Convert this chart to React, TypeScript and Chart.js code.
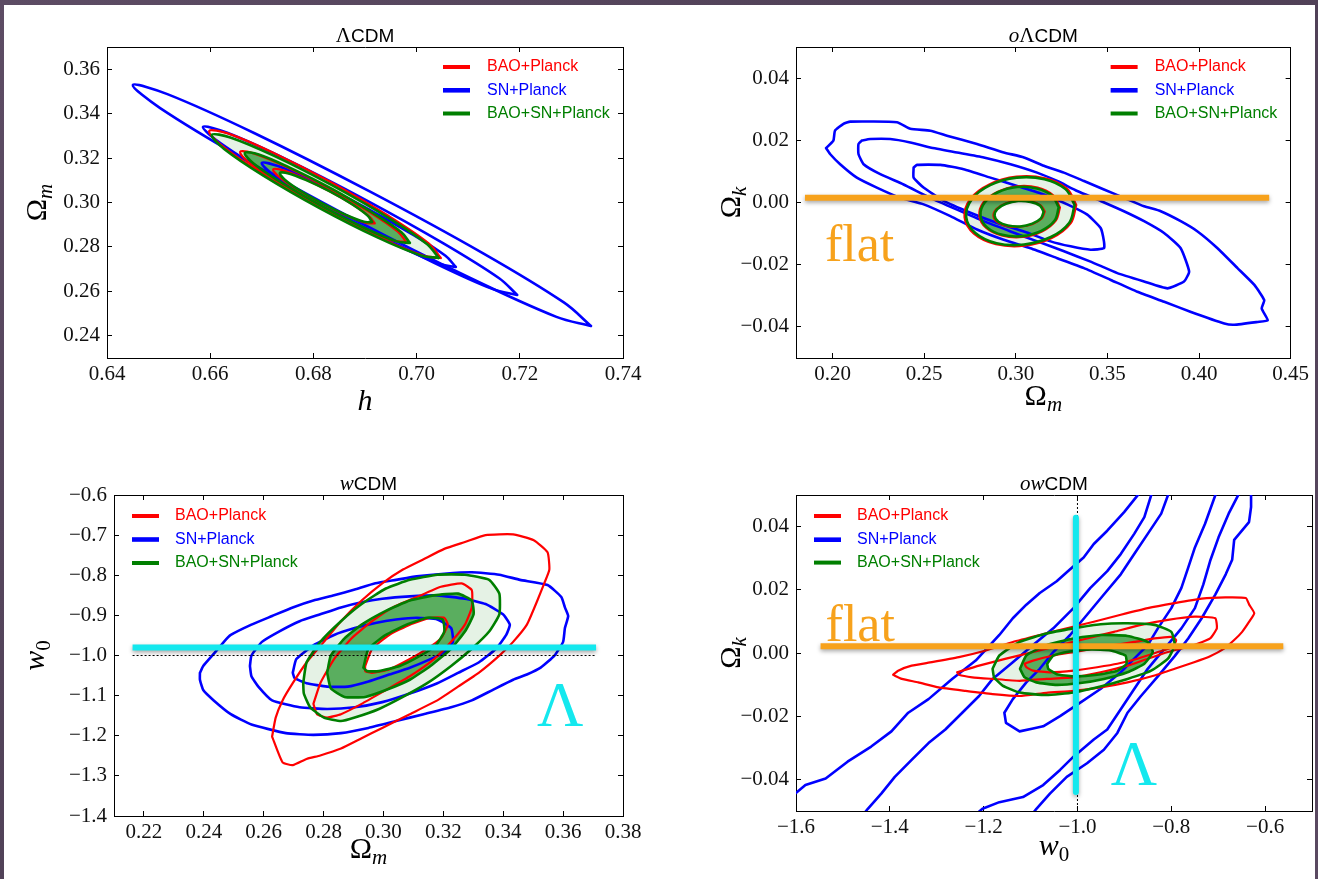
import React, { useEffect, useRef } from 'react';
import { Chart, registerables } from 'chart.js';

Chart.register(...registerables);

type Pt = [number, number];

// ---------------- axis ranges & ticks ----------------
const P1_X_RANGE: Pt = [0.64, 0.74];
const P1_Y_RANGE: Pt = [0.23, 0.37];
const P1_X_TICKS = [0.64, 0.66, 0.68, 0.70, 0.72, 0.74];
const P1_Y_TICKS = [0.24, 0.26, 0.28, 0.30, 0.32, 0.34, 0.36];

const P2_X_RANGE: Pt = [0.18, 0.45];
const P2_Y_RANGE: Pt = [-0.05, 0.05];
const P2_X_TICKS = [0.20, 0.25, 0.30, 0.35, 0.40, 0.45];
const P2_Y_TICKS = [-0.04, -0.02, 0, 0.02, 0.04];

const P3_X_RANGE: Pt = [0.21, 0.38];
const P3_Y_RANGE: Pt = [-1.4, -0.6];
const P3_X_TICKS = [0.22, 0.24, 0.26, 0.28, 0.30, 0.32, 0.34, 0.36, 0.38];
const P3_Y_TICKS = [-1.4, -1.3, -1.2, -1.1, -1.0, -0.9, -0.8, -0.7, -0.6];

const P4_X_RANGE: Pt = [-1.6, -0.5];
const P4_Y_RANGE: Pt = [-0.05, 0.05];
const P4_X_TICKS = [-1.6, -1.4, -1.2, -1.0, -0.8, -0.6];
const P4_Y_TICKS = [-0.04, -0.02, 0, 0.02, 0.04];

const LEGEND_LABELS = ['BAO+Planck', 'SN+Planck', 'BAO+SN+Planck'];

// ---------------- Panel 1: ΛCDM (h, Ωm) ----------------
const P1_SN_3: Pt[] = [[0.7338,0.2444],[0.7271,0.2485],[0.7104,0.2660],[0.6880,0.2923],[0.6660,0.3203],[0.6503,0.3425],[0.6450,0.3529],[0.6517,0.3488],[0.6685,0.3313],[0.6909,0.3050],[0.7129,0.2771],[0.7286,0.2549]];
const P1_SN_2: Pt[] = [[0.7195,0.2584],[0.7148,0.2610],[0.7033,0.2730],[0.6879,0.2912],[0.6728,0.3108],[0.6621,0.3265],[0.6586,0.3340],[0.6633,0.3314],[0.6748,0.3194],[0.6902,0.3011],[0.7052,0.2816],[0.7160,0.2659]];
const P1_SN_1: Pt[] = [[0.7076,0.2710],[0.7047,0.2722],[0.6975,0.2794],[0.6880,0.2906],[0.6787,0.3028],[0.6721,0.3128],[0.6700,0.3178],[0.6730,0.3165],[0.6802,0.3094],[0.6897,0.2982],[0.6990,0.2859],[0.7056,0.2760]];
const P1_BAO_3: Pt[] = [[0.7047,0.2750],[0.7011,0.2762],[0.6924,0.2847],[0.6810,0.2983],[0.6699,0.3133],[0.6622,0.3257],[0.6598,0.3322],[0.6634,0.3311],[0.6721,0.3225],[0.6835,0.3090],[0.6946,0.2939],[0.7024,0.2815]];
const P1_BAO_2: Pt[] = [[0.6980,0.2822],[0.6953,0.2829],[0.6891,0.2888],[0.6809,0.2984],[0.6730,0.3091],[0.6675,0.3180],[0.6658,0.3228],[0.6684,0.3221],[0.6746,0.3162],[0.6828,0.3066],[0.6907,0.2959],[0.6963,0.2870]];
const P1_BAO_1: Pt[] = [[0.6919,0.2906],[0.6903,0.2907],[0.6864,0.2941],[0.6814,0.2998],[0.6765,0.3063],[0.6732,0.3118],[0.6722,0.3149],[0.6738,0.3147],[0.6777,0.3113],[0.6827,0.3056],[0.6876,0.2991],[0.6909,0.2936]];
const P1_ALL_3: Pt[] = [[0.7043,0.2750],[0.7008,0.2762],[0.6923,0.2844],[0.6811,0.2976],[0.6703,0.3121],[0.6627,0.3241],[0.6603,0.3304],[0.6639,0.3293],[0.6724,0.3210],[0.6835,0.3079],[0.6944,0.2933],[0.7020,0.2813]];
const P1_ALL_2: Pt[] = [[0.6987,0.2818],[0.6961,0.2825],[0.6899,0.2885],[0.6818,0.2981],[0.6739,0.3088],[0.6684,0.3176],[0.6667,0.3223],[0.6694,0.3216],[0.6755,0.3156],[0.6837,0.3060],[0.6915,0.2953],[0.6971,0.2865]];
const P1_ALL_1: Pt[] = [[0.6914,0.2912],[0.6898,0.2913],[0.6864,0.2943],[0.6818,0.2995],[0.6774,0.3054],[0.6744,0.3104],[0.6735,0.3133],[0.6750,0.3132],[0.6785,0.3102],[0.6831,0.3051],[0.6875,0.2992],[0.6905,0.2941]];

// ---------------- Panel 2: oΛCDM (Ωm, Ωk) ----------------
const P2_SN_3: Pt[] = [[0.1964,0.0175],[0.2004,0.0199],[0.2013,0.0231],[0.2059,0.0253],[0.2096,0.0260],[0.2351,0.0258],[0.2424,0.0237],[0.2533,0.0231],[0.2624,0.0215],[0.2788,0.0188],[0.2934,0.0161],[0.3044,0.0145],[0.3153,0.0118],[0.3262,0.0096],[0.3372,0.0069],[0.3481,0.0042],[0.3590,0.0015],[0.3700,-0.0012],[0.3791,-0.0028],[0.3900,-0.0060],[0.3992,-0.0093],[0.4101,-0.0147],[0.4210,-0.0211],[0.4302,-0.0265],[0.4356,-0.0314],[0.4342,-0.0341],[0.4375,-0.0379],[0.4320,-0.0384],[0.4192,-0.0393],[0.4138,-0.0389],[0.3956,-0.0352],[0.3810,-0.0319],[0.3663,-0.0287],[0.3518,-0.0249],[0.3372,-0.0211],[0.3226,-0.0179],[0.3080,-0.0147],[0.2934,-0.0120],[0.2788,-0.0087],[0.2643,-0.0044],[0.2497,-0.0006],[0.2369,0.0015],[0.2241,0.0048],[0.2132,0.0080],[0.2041,0.0123],[0.1986,0.0156]];
const P2_SN_2: Pt[] = [[0.2159,0.0199],[0.2205,0.0204],[0.2314,0.0204],[0.2424,0.0193],[0.2533,0.0177],[0.2679,0.0161],[0.2825,0.0145],[0.2971,0.0123],[0.3116,0.0096],[0.3226,0.0069],[0.3335,0.0037],[0.3463,0.0005],[0.3590,-0.0028],[0.3700,-0.0060],[0.3809,-0.0098],[0.3900,-0.0147],[0.3946,-0.0222],[0.3918,-0.0254],[0.3827,-0.0276],[0.3700,-0.0254],[0.3554,-0.0227],[0.3408,-0.0190],[0.3263,-0.0157],[0.3117,-0.0125],[0.2971,-0.0093],[0.2825,-0.0060],[0.2679,-0.0023],[0.2533,0.0015],[0.2387,0.0058],[0.2260,0.0091],[0.2169,0.0123],[0.2141,0.0156],[0.2141,0.0188]];
const P2_SN_1: Pt[] = [[0.2442,0.0112],[0.2460,0.0121],[0.2588,0.0121],[0.2715,0.0107],[0.2861,0.0080],[0.3007,0.0053],[0.3153,0.0026],[0.3281,-0.0006],[0.3390,-0.0039],[0.3463,-0.0082],[0.3481,-0.0125],[0.3481,-0.0147],[0.3408,-0.0152],[0.3299,-0.0141],[0.3190,-0.0125],[0.3044,-0.0093],[0.2898,-0.0066],[0.2752,-0.0033],[0.2606,0.0005],[0.2496,0.0048],[0.2442,0.0080]];
const P2_BAO_3: Pt[] = [[0.3330,-0.0008],[0.3300,-0.0066],[0.3196,-0.0114],[0.3046,-0.0139],[0.2891,-0.0134],[0.2771,-0.0100],[0.2720,-0.0048],[0.2751,0.0011],[0.2855,0.0058],[0.3004,0.0083],[0.3160,0.0078],[0.3279,0.0045]];
const P2_BAO_2: Pt[] = [[0.3241,-0.0016],[0.3218,-0.0058],[0.3143,-0.0093],[0.3035,-0.0111],[0.2923,-0.0106],[0.2837,-0.0081],[0.2801,-0.0043],[0.2823,0.0000],[0.2899,0.0034],[0.3007,0.0052],[0.3119,0.0048],[0.3204,0.0023]];
const P2_BAO_1: Pt[] = [[0.3158,-0.0029],[0.3142,-0.0051],[0.3093,-0.0069],[0.3024,-0.0078],[0.2953,-0.0076],[0.2900,-0.0063],[0.2878,-0.0043],[0.2894,-0.0021],[0.2943,-0.0003],[0.3012,0.0006],[0.3083,0.0004],[0.3136,-0.0009]];
const P2_ALL_3: Pt[] = [[0.3321,-0.0008],[0.3292,-0.0065],[0.3191,-0.0111],[0.3045,-0.0135],[0.2895,-0.0131],[0.2779,-0.0098],[0.2729,-0.0047],[0.2759,0.0010],[0.2860,0.0056],[0.3005,0.0080],[0.3156,0.0075],[0.3271,0.0043]];
const P2_ALL_2: Pt[] = [[0.3234,-0.0016],[0.3212,-0.0058],[0.3139,-0.0091],[0.3034,-0.0108],[0.2926,-0.0104],[0.2843,-0.0080],[0.2807,-0.0042],[0.2829,-0.0001],[0.2902,0.0033],[0.3007,0.0050],[0.3116,0.0045],[0.3199,0.0021]];
const P2_ALL_1: Pt[] = [[0.3152,-0.0030],[0.3137,-0.0051],[0.3090,-0.0068],[0.3023,-0.0077],[0.2956,-0.0074],[0.2905,-0.0062],[0.2884,-0.0042],[0.2899,-0.0021],[0.2946,-0.0004],[0.3013,0.0005],[0.3080,0.0002],[0.3132,-0.0010]];
const P2_FLAT_LINE: Pt[] = [[0.1849, 0.0015], [0.4383, 0.0015]];
const P2_FLAT_TEXT_AT: Pt = [0.1958, -0.0188];

// ---------------- Panel 3: wCDM (Ωm, w0) ----------------
const P3_SN_3: Pt[] = [[0.2387,-1.0432],[0.2398,-1.0261],[0.2433,-0.9960],[0.2467,-0.9660],[0.2490,-0.9488],[0.2559,-0.9231],[0.2628,-0.9016],[0.2697,-0.8802],[0.2766,-0.8630],[0.2835,-0.8501],[0.2904,-0.8355],[0.2973,-0.8201],[0.3042,-0.8115],[0.3111,-0.8029],[0.3203,-0.7961],[0.3295,-0.7926],[0.3387,-0.7986],[0.3456,-0.8115],[0.3548,-0.8244],[0.3594,-0.8544],[0.3606,-0.8802],[0.3617,-0.9016],[0.3606,-0.9317],[0.3600,-0.9660],[0.3571,-1.0003],[0.3525,-1.0303],[0.3479,-1.0475],[0.3433,-1.0604],[0.3364,-1.0861],[0.3295,-1.1119],[0.3226,-1.1290],[0.3134,-1.1462],[0.3042,-1.1634],[0.2950,-1.1805],[0.2858,-1.1934],[0.2766,-1.1977],[0.2674,-1.1934],[0.2559,-1.1720],[0.2490,-1.1462],[0.2433,-1.1119],[0.2398,-1.0861],[0.2387,-1.0604]];
const P3_SN_2: Pt[] = [[0.2554,-1.0261],[0.2559,-1.0003],[0.2594,-0.9660],[0.2651,-0.9403],[0.2720,-0.9145],[0.2789,-0.8973],[0.2858,-0.8802],[0.2927,-0.8673],[0.2996,-0.8587],[0.3088,-0.8527],[0.3180,-0.8501],[0.3272,-0.8587],[0.3341,-0.8716],[0.3399,-0.8973],[0.3422,-0.9231],[0.3410,-0.9488],[0.3376,-0.9831],[0.3318,-1.0175],[0.3249,-1.0432],[0.3180,-1.0690],[0.3088,-1.0947],[0.2996,-1.1162],[0.2904,-1.1290],[0.2812,-1.1333],[0.2720,-1.1290],[0.2628,-1.1119],[0.2582,-1.0776],[0.2559,-1.0518]];
const P3_SN_1: Pt[] = [[0.2697,-1.0432],[0.2709,-1.0089],[0.2766,-0.9746],[0.2835,-0.9488],[0.2904,-0.9317],[0.2973,-0.9188],[0.3042,-0.9102],[0.3111,-0.9059],[0.3180,-0.9102],[0.3226,-0.9317],[0.3232,-0.9660],[0.3203,-0.9917],[0.3157,-1.0089],[0.3088,-1.0303],[0.3019,-1.0475],[0.2950,-1.0647],[0.2881,-1.0776],[0.2812,-1.0776],[0.2743,-1.0690],[0.2703,-1.0561]];
const P3_BAO_3: Pt[] = [[0.2628,-1.2020],[0.2640,-1.1548],[0.2663,-1.1119],[0.2697,-1.0690],[0.2743,-1.0175],[0.2801,-0.9660],[0.2858,-0.9145],[0.2927,-0.8630],[0.2996,-0.8201],[0.3065,-0.7858],[0.3134,-0.7600],[0.3203,-0.7343],[0.3272,-0.7171],[0.3341,-0.6999],[0.3433,-0.6982],[0.3502,-0.7128],[0.3548,-0.7428],[0.3554,-0.7858],[0.3537,-0.8201],[0.3514,-0.8630],[0.3479,-0.9231],[0.3433,-0.9660],[0.3387,-1.0003],[0.3318,-1.0432],[0.3249,-1.0776],[0.3180,-1.1119],[0.3088,-1.1462],[0.2996,-1.1805],[0.2927,-1.2063],[0.2858,-1.2320],[0.2789,-1.2492],[0.2743,-1.2578],[0.2697,-1.2732],[0.2663,-1.2663]];
const P3_BAO_2: Pt[] = [[0.2766,-1.1205],[0.2789,-1.0690],[0.2835,-1.0089],[0.2893,-0.9574],[0.2962,-0.9145],[0.3031,-0.8802],[0.3111,-0.8544],[0.3192,-0.8287],[0.3261,-0.8201],[0.3295,-0.8372],[0.3295,-0.8802],[0.3272,-0.9231],[0.3226,-0.9660],[0.3169,-1.0089],[0.3088,-1.0518],[0.3008,-1.0861],[0.2927,-1.1205],[0.2858,-1.1462],[0.2812,-1.1548],[0.2778,-1.1462]];
const P3_BAO_1: Pt[] = [[0.2939,-1.0261],[0.2962,-0.9831],[0.3019,-0.9488],[0.3088,-0.9231],[0.3157,-0.9059],[0.3203,-0.9059],[0.3215,-0.9231],[0.3192,-0.9574],[0.3146,-0.9831],[0.3088,-1.0089],[0.3019,-1.0346],[0.2962,-1.0432],[0.2939,-1.0389]];
const P3_ALL_3: Pt[] = [[0.2732,-1.0690],[0.2743,-1.0175],[0.2789,-0.9660],[0.2858,-0.9145],[0.2927,-0.8716],[0.3008,-0.8330],[0.3088,-0.8115],[0.3180,-0.7986],[0.3272,-0.7986],[0.3353,-0.8115],[0.3387,-0.8458],[0.3387,-0.8973],[0.3353,-0.9403],[0.3295,-0.9831],[0.3226,-1.0261],[0.3146,-1.0690],[0.3065,-1.1033],[0.2985,-1.1333],[0.2904,-1.1548],[0.2858,-1.1634],[0.2801,-1.1548],[0.2755,-1.1290],[0.2734,-1.0947]];
const P3_ALL_2: Pt[] = [[0.2812,-1.0432],[0.2824,-1.0003],[0.2870,-0.9574],[0.2927,-0.9231],[0.3008,-0.8887],[0.3088,-0.8630],[0.3169,-0.8501],[0.3249,-0.8458],[0.3295,-0.8630],[0.3301,-0.8973],[0.3272,-0.9403],[0.3226,-0.9831],[0.3157,-1.0261],[0.3088,-1.0604],[0.3008,-1.0861],[0.2939,-1.1033],[0.2870,-1.1033],[0.2824,-1.0818]];
const P3_ALL_1: Pt[] = [[0.2933,-1.0303],[0.2950,-0.9831],[0.3008,-0.9488],[0.3077,-0.9231],[0.3146,-0.9059],[0.3198,-0.9102],[0.3203,-0.9403],[0.3175,-0.9746],[0.3123,-1.0003],[0.3054,-1.0261],[0.2985,-1.0389],[0.2945,-1.0389]];
const P3_LAMBDA_LINE: Pt[] = [[0.2162, -0.98], [0.3710, -0.98]];
const P3_W_MINUS_ONE: Pt[] = [[0.2162, -1.0], [0.3710, -1.0]];
const P3_LAMBDA_TEXT_AT: Pt = [0.3590, -1.1757];

// ---------------- Panel 4: owCDM (w0, Ωk) ----------------
const P4_SN_3L: Pt[] = [[-1.6411,-0.0482],[-1.6015,-0.0445],[-1.5799,-0.0418],[-1.5368,-0.0397],[-1.4901,-0.0344],[-1.4397,-0.0296],[-1.3966,-0.0248],[-1.3607,-0.0189],[-1.3175,-0.0146],[-1.2672,-0.0082],[-1.2169,-0.0024],[-1.1665,0.0057],[-1.1378,0.0110],[-1.1090,0.0153],[-1.0803,0.0190],[-1.0443,0.0227],[-1.0156,0.0265],[-0.9868,0.0302],[-0.9652,0.0345],[-0.9365,0.0387],[-0.9005,0.0446],[-0.8718,0.0499],[-0.8502,0.0537]];
const P4_SN_2L: Pt[] = [[-1.4613,-0.0520],[-1.4469,-0.0493],[-1.4182,-0.0445],[-1.3894,-0.0392],[-1.3535,-0.0338],[-1.3175,-0.0285],[-1.2816,-0.0242],[-1.2456,-0.0189],[-1.2097,-0.0136],[-1.1809,-0.0082],[-1.1378,-0.0029],[-1.0946,0.0025],[-1.0515,0.0078],[-1.0084,0.0142],[-0.9724,0.0206],[-0.9365,0.0259],[-0.9077,0.0313],[-0.8790,0.0377],[-0.8574,0.0430],[-0.8429,0.0499],[-0.8358,0.0537]];
const P4_SN_1: Pt[] = [[-0.7927,0.0537],[-0.8071,0.0499],[-0.8214,0.0441],[-0.8502,0.0377],[-0.8790,0.0313],[-0.9077,0.0249],[-0.9437,0.0185],[-0.9796,0.0121],[-1.0156,0.0057],[-1.0515,0.0003],[-1.0803,-0.0050],[-1.1090,-0.0093],[-1.1378,-0.0146],[-1.1558,-0.0189],[-1.1524,-0.0221],[-1.1234,-0.0248],[-1.0946,-0.0239],[-1.0731,-0.0232],[-1.0371,-0.0200],[-0.9940,-0.0157],[-0.9509,-0.0114],[-0.9077,-0.0061],[-0.8790,-0.0018],[-0.8502,0.0025],[-0.8286,0.0078],[-0.7999,0.0142],[-0.7784,0.0206],[-0.7639,0.0270],[-0.7496,0.0334],[-0.7280,0.0409],[-0.7062,0.0499],[-0.6990,0.0537]];
const P4_SN_2R: Pt[] = [[-1.2241,-0.0520],[-1.2025,-0.0493],[-1.1665,-0.0472],[-1.1162,-0.0456],[-1.0731,-0.0418],[-1.0371,-0.0370],[-1.0084,-0.0328],[-0.9652,-0.0274],[-0.9365,-0.0242],[-0.9077,-0.0178],[-0.8790,-0.0114],[-0.8502,-0.0050],[-0.8143,0.0014],[-0.7784,0.0078],[-0.7496,0.0142],[-0.7316,0.0217],[-0.7172,0.0291],[-0.6992,0.0366],[-0.6777,0.0441],[-0.6576,0.0499],[-0.6525,0.0537]];
const P4_SN_3R: Pt[] = [[-1.1018,-0.0520],[-1.0875,-0.0493],[-1.0587,-0.0445],[-1.0228,-0.0392],[-0.9796,-0.0349],[-0.9437,-0.0306],[-0.9149,-0.0253],[-0.8933,-0.0189],[-0.8646,-0.0136],[-0.8286,-0.0074],[-0.7927,-0.0010],[-0.7639,0.0046],[-0.7352,0.0110],[-0.7062,0.0185],[-0.6839,0.0249],[-0.6702,0.0295],[-0.6659,0.0358],[-0.6343,0.0414],[-0.6299,0.0462],[-0.6299,0.0499],[-0.6299,0.0537]];
const P4_BAO_3: Pt[] = [[-1.3930,-0.0069],[-1.3822,-0.0056],[-1.3535,-0.0040],[-1.3103,-0.0029],[-1.2528,-0.0013],[-1.1953,0.0008],[-1.1378,0.0035],[-1.0803,0.0057],[-1.0228,0.0078],[-0.9652,0.0099],[-0.9077,0.0121],[-0.8502,0.0142],[-0.7927,0.0158],[-0.7352,0.0172],[-0.6849,0.0176],[-0.6411,0.0174],[-0.6339,0.0153],[-0.6231,0.0126],[-0.6339,0.0099],[-0.6489,0.0067],[-0.6659,0.0041],[-0.6874,0.0014],[-0.7172,-0.0010],[-0.7513,-0.0029],[-0.7927,-0.0050],[-0.8358,-0.0071],[-0.8933,-0.0093],[-0.9509,-0.0109],[-1.0084,-0.0120],[-1.0660,-0.0126],[-1.1234,-0.0136],[-1.1809,-0.0130],[-1.2385,-0.0120],[-1.2961,-0.0109],[-1.3393,-0.0093],[-1.3745,-0.0082]];
const P4_BAO_2: Pt[] = [[-1.2564,-0.0061],[-1.2097,-0.0040],[-1.1522,-0.0018],[-1.0946,0.0003],[-1.0371,0.0025],[-0.9796,0.0046],[-0.9221,0.0067],[-0.8646,0.0089],[-0.8071,0.0105],[-0.7496,0.0115],[-0.7062,0.0110],[-0.7028,0.0078],[-0.7172,0.0046],[-0.7513,0.0025],[-0.8071,0.0003],[-0.8502,-0.0018],[-0.8933,-0.0040],[-0.9509,-0.0061],[-1.0084,-0.0077],[-1.0660,-0.0082],[-1.1234,-0.0088],[-1.1809,-0.0082],[-1.2241,-0.0077],[-1.2528,-0.0069]];
const P4_BAO_1: Pt[] = [[-1.1126,-0.0034],[-1.0946,-0.0024],[-1.0515,-0.0008],[-1.0084,0.0003],[-0.9652,0.0014],[-0.9221,0.0025],[-0.8790,0.0035],[-0.8358,0.0046],[-0.7999,0.0051],[-0.7895,0.0041],[-0.7967,0.0019],[-0.8286,0.0003],[-0.8718,-0.0018],[-0.9149,-0.0034],[-0.9581,-0.0045],[-1.0084,-0.0056],[-1.0587,-0.0061],[-1.0946,-0.0056],[-1.1090,-0.0045]];
const P4_ALL_3: Pt[] = [[-1.1809,-0.0050],[-1.1665,-0.0008],[-1.1234,0.0035],[-1.0660,0.0062],[-1.0084,0.0078],[-0.9509,0.0091],[-0.8933,0.0094],[-0.8358,0.0089],[-0.7999,0.0067],[-0.7927,0.0025],[-0.8071,-0.0018],[-0.8429,-0.0056],[-0.8933,-0.0082],[-0.9509,-0.0106],[-1.0084,-0.0125],[-1.0660,-0.0133],[-1.1234,-0.0125],[-1.1596,-0.0103],[-1.1776,-0.0077]];
const P4_ALL_2: Pt[] = [[-1.1224,-0.0050],[-1.1090,-0.0008],[-1.0660,0.0025],[-1.0084,0.0046],[-0.9509,0.0057],[-0.8933,0.0054],[-0.8502,0.0035],[-0.8395,0.0003],[-0.8574,-0.0034],[-0.8933,-0.0061],[-0.9437,-0.0082],[-0.9940,-0.0095],[-1.0443,-0.0101],[-1.0875,-0.0093],[-1.1126,-0.0077]];
const P4_ALL_1: Pt[] = [[-1.0645,-0.0034],[-1.0515,-0.0008],[-1.0156,0.0005],[-0.9724,0.0011],[-0.9295,0.0008],[-0.8976,-0.0008],[-0.8955,-0.0034],[-0.9149,-0.0056],[-0.9581,-0.0069],[-1.0084,-0.0074],[-1.0443,-0.0067],[-1.0622,-0.0050]];
const P4_FLAT_LINE: Pt[] = [[-1.5476, 0.0021], [-0.5612, 0.0021]];
const P4_LAMBDA_LINE: Pt[] = [[-1.0033, 0.0428], [-1.0033, -0.0440]];
const P4_W_MINUS_ONE: Pt[] = [[-1.0, 0.05], [-1.0, -0.05]];
const P4_FLAT_TEXT_AT: Pt = [-1.5369, 0.0038];
const P4_LAMBDA_TEXT_AT: Pt = [-0.8795, -0.0418];

// ---------------- styling ----------------
const BLUE = '#0000ff';
const RED = '#ff0000';
const GREEN = '#007f00';
const FILL_LIGHT = '#e5f2e5';
const FILL_DARK = '#5aae5f';
const ORANGE = '#f7a21c';
const CYAN = '#14e8ee';
const LEGEND_COLORS = [RED, BLUE, GREEN];
const SERIF = '"Liberation Serif", "DejaVu Serif", serif';
const SANS = '"Liberation Sans", Arial, sans-serif';
const LW = 2.6;
const LW_RED = 2.2;
const T_ELL = 0.35;
const T_TRACE = 0.15;

type Part = { text: string; font: string; dy?: number };

const closeLoop = (p: Pt[]): Pt[] => [...p, p[0]];
const xy = (p: Pt[]) => p.map(([x, y]) => ({ x, y }));

function lineDs(p: Pt[], color: string, width: number, order: number, o: any = {}) {
  const pts = o.open ? p : closeLoop(p);
  return {
    data: xy(pts),
    showLine: true,
    borderColor: color,
    backgroundColor: color,
    borderWidth: width,
    pointRadius: 0,
    pointHoverRadius: 0,
    pointHitRadius: 0,
    fill: false,
    tension: o.tension ?? T_ELL,
    borderDash: o.dash ?? [],
    borderJoinStyle: 'round',
    borderCapStyle: o.cap ?? 'round',
    order,
    clip: 0,
    shadow: !!o.shadow,
  };
}

function areaDs(p: Pt[], color: string, order: number, tension: number) {
  return {
    data: xy(closeLoop(p)),
    showLine: true,
    borderColor: 'rgba(0,0,0,0)',
    backgroundColor: color,
    borderWidth: 1,
    pointRadius: 0,
    pointHoverRadius: 0,
    pointHitRadius: 0,
    fill: 'shape',
    tension,
    order,
    clip: 0,
  };
}

function fmt(v: number, d: number) {
  const s = Math.abs(v) < 1e-9 ? (0).toFixed(d) : v.toFixed(d);
  return s.replace('-', '\u2212');
}

function axisCfg(position: string, range: Pt, ticks: number[], dec: number, labels: boolean, size: number) {
  const vertical = position === 'left' || position === 'right';
  return {
    type: 'linear',
    position,
    min: range[0],
    max: range[1],
    afterBuildTicks: (s: any) => {
      s.ticks = ticks.map((v) => ({ value: v }));
    },
    afterFit: (s: any) => {
      if (vertical) s.width = size;
      else s.height = size;
    },
    grid: {
      display: true,
      drawOnChartArea: false,
      drawTicks: true,
      tickLength: -5,
      tickWidth: 1,
      tickColor: '#000',
      color: '#000',
    },
    border: { display: true, color: '#000', width: 1 },
    ticks: {
      display: labels,
      autoSkip: false,
      maxRotation: 0,
      minRotation: 0,
      padding: vertical ? 12 : 9,
      color: '#111',
      font: { family: SERIF, size: 21 },
      callback: (v: number) => fmt(v, dec),
    },
  };
}

function drawParts(ctx: CanvasRenderingContext2D, x: number, y: number, rot: number, parts: Part[], color = '#000') {
  ctx.save();
  ctx.translate(x, y);
  ctx.rotate(rot);
  ctx.textBaseline = 'alphabetic';
  ctx.textAlign = 'left';
  ctx.fillStyle = color;
  const widths = parts.map((p) => {
    ctx.font = p.font;
    return ctx.measureText(p.text).width;
  });
  const total = widths.reduce((a, b) => a + b, 0);
  let cx = -total / 2;
  parts.forEach((p, i) => {
    ctx.font = p.font;
    ctx.fillText(p.text, cx, p.dy || 0);
    cx += widths[i];
  });
  ctx.restore();
}

interface Decor {
  title: Part[];
  xLabel: Part[];
  xLabelGap: number;
  yLabel: Part[];
  yLabelGap: number;
  legendSide: 'left' | 'right';
  legendRows: number[];
  texts: { text: string; at: Pt; font: string; color: string; align: CanvasTextAlign }[];
}

function makeDecorPlugin(d: Decor) {
  return {
    id: 'decor',
    afterDraw(chart: any) {
      const ctx: CanvasRenderingContext2D = chart.ctx;
      const a = chart.chartArea;
      const xs = chart.scales.x;
      const ys = chart.scales.y;
      ctx.save();
      drawParts(ctx, (a.left + a.right) / 2, a.top - 5.5, 0, d.title);
      drawParts(ctx, (a.left + a.right) / 2, a.bottom + d.xLabelGap, 0, d.xLabel);
      drawParts(ctx, a.left - d.yLabelGap, (a.top + a.bottom) / 2, -Math.PI / 2, d.yLabel);
      const x0 = d.legendSide === 'right' ? a.right - 180 : a.left + 18;
      const tx = d.legendSide === 'right' ? a.right - 136 : a.left + 61;
      d.legendRows.forEach((dy, i) => {
        const y = a.top + dy;
        ctx.strokeStyle = LEGEND_COLORS[i];
        ctx.lineWidth = i === 1 ? 4.6 : 4;
        ctx.lineCap = 'butt';
        ctx.beginPath();
        ctx.moveTo(x0, y);
        ctx.lineTo(x0 + 27, y);
        ctx.stroke();
        ctx.fillStyle = LEGEND_COLORS[i];
        ctx.font = '16px ' + SANS;
        ctx.textBaseline = 'middle';
        ctx.textAlign = 'left';
        ctx.fillText(LEGEND_LABELS[i], tx, y);
      });
      d.texts.forEach((t) => {
        ctx.font = t.font;
        ctx.fillStyle = t.color;
        ctx.textAlign = t.align;
        ctx.textBaseline = 'alphabetic';
        ctx.fillText(t.text, xs.getPixelForValue(t.at[0]), ys.getPixelForValue(t.at[1]));
      });
      ctx.restore();
    },
  };
}

const shadowPlugin = {
  id: 'lineShadow',
  beforeDatasetDraw(chart: any, args: any) {
    const ds = chart.data.datasets[args.index];
    if (ds && ds.shadow) {
      const c = chart.ctx;
      c.save();
      c.shadowColor = 'rgba(0,0,0,0.35)';
      c.shadowBlur = 4;
      c.shadowOffsetY = 2;
    }
  },
  afterDatasetDraw(chart: any, args: any) {
    const ds = chart.data.datasets[args.index];
    if (ds && ds.shadow) chart.ctx.restore();
  },
};

function stack(
  sn: Pt[][], snOpen: boolean, snT: number,
  bao3: Pt[], bao2: Pt[], bao1: Pt[],
  all3: Pt[], all2: Pt[], all1: Pt[], t: number,
) {
  return [
    areaDs(all3, FILL_LIGHT, 100, t),
    areaDs(all2, FILL_DARK, 99, t),
    areaDs(all1, '#ffffff', 98, t),
    ...sn.map((p) => lineDs(p, BLUE, LW, 50, { open: snOpen, tension: snT })),
    lineDs(bao3, RED, LW_RED, 40, { tension: t }),
    lineDs(bao2, RED, LW_RED, 40, { tension: t }),
    lineDs(bao1, RED, LW_RED, 40, { tension: t }),
    lineDs(all3, GREEN, LW, 30, { tension: t }),
    lineDs(all2, GREEN, LW, 30, { tension: t }),
    lineDs(all1, GREEN, LW, 30, { tension: t }),
  ];
}

const italicSerif = (s: number) => `italic ${s}px ${SERIF}`;
const serif = (s: number) => `${s}px ${SERIF}`;
const sans = (s: number) => `${s}px ${SANS}`;

const OMEGA_M: Part[] = [{ text: 'Ω', font: serif(30) }, { text: 'm', font: italicSerif(21), dy: 6 }];
const OMEGA_K: Part[] = [{ text: 'Ω', font: serif(30) }, { text: 'k', font: italicSerif(21), dy: 6 }];
const W_ZERO: Part[] = [{ text: 'w', font: italicSerif(30) }, { text: '0', font: serif(21), dy: 6 }];

interface PanelSpec {
  frame: [number, number, number, number];
  area: [number, number, number, number];
  xRange: Pt; yRange: Pt; xTicks: number[]; yTicks: number[]; xDec: number; yDec: number;
  datasets: any[];
  decor: Decor;
}

const PANELS: PanelSpec[] = [
  {
    frame: [0, 0, 659, 440],
    area: [107, 47, 623, 358],
    xRange: P1_X_RANGE, yRange: P1_Y_RANGE, xTicks: P1_X_TICKS, yTicks: P1_Y_TICKS, xDec: 2, yDec: 2,
    datasets: stack([P1_SN_3, P1_SN_2, P1_SN_1], false, T_ELL, P1_BAO_3, P1_BAO_2, P1_BAO_1, P1_ALL_3, P1_ALL_2, P1_ALL_1, T_ELL),
    decor: {
      title: [{ text: 'Λ', font: serif(21) }, { text: 'CDM', font: sans(19) }],
      xLabel: [{ text: 'h', font: italicSerif(30) }], xLabelGap: 52,
      yLabel: OMEGA_M, yLabelGap: 61,
      legendSide: 'right', legendRows: [20, 43.3, 66.5],
      texts: [],
    },
  },
  {
    frame: [659, 0, 659, 440],
    area: [137, 47, 634, 358],
    xRange: P2_X_RANGE, yRange: P2_Y_RANGE, xTicks: P2_X_TICKS, yTicks: P2_Y_TICKS, xDec: 2, yDec: 2,
    datasets: [
      ...stack([P2_SN_3, P2_SN_2, P2_SN_1], false, T_TRACE, P2_BAO_3, P2_BAO_2, P2_BAO_1, P2_ALL_3, P2_ALL_2, P2_ALL_1, T_ELL),
      lineDs(P2_FLAT_LINE, ORANGE, 6, 10, { open: true, tension: 0, cap: 'butt', shadow: true }),
    ],
    decor: {
      title: [{ text: 'o', font: italicSerif(21) }, { text: 'Λ', font: serif(21) }, { text: 'CDM', font: sans(19) }],
      xLabel: OMEGA_M, xLabelGap: 47,
      yLabel: OMEGA_K, yLabelGap: 56,
      legendSide: 'right', legendRows: [20, 43.3, 66.5],
      texts: [{ text: 'flat', at: P2_FLAT_TEXT_AT, font: serif(52), color: ORANGE, align: 'left' }],
    },
  },
  {
    frame: [0, 440, 659, 439],
    area: [114, 55, 623, 376],
    xRange: P3_X_RANGE, yRange: P3_Y_RANGE, xTicks: P3_X_TICKS, yTicks: P3_Y_TICKS, xDec: 2, yDec: 1,
    datasets: [
      ...stack([P3_SN_3, P3_SN_2, P3_SN_1], false, T_TRACE, P3_BAO_3, P3_BAO_2, P3_BAO_1, P3_ALL_3, P3_ALL_2, P3_ALL_1, T_TRACE),
      lineDs(P3_W_MINUS_ONE, '#000', 1, 20, { open: true, tension: 0, cap: 'butt', dash: [2, 2] }),
      lineDs(P3_LAMBDA_LINE, CYAN, 6, 10, { open: true, tension: 0, cap: 'butt', shadow: true }),
    ],
    decor: {
      title: [{ text: 'w', font: italicSerif(21) }, { text: 'CDM', font: sans(19) }],
      xLabel: OMEGA_M, xLabelGap: 42,
      yLabel: W_ZERO, yLabelGap: 70,
      legendSide: 'left', legendRows: [21, 44.5, 68],
      texts: [{ text: 'Λ', at: P3_LAMBDA_TEXT_AT, font: serif(64), color: CYAN, align: 'center' }],
    },
  },
  {
    frame: [659, 440, 659, 439],
    area: [137, 55, 653, 371],
    xRange: P4_X_RANGE, yRange: P4_Y_RANGE, xTicks: P4_X_TICKS, yTicks: P4_Y_TICKS, xDec: 1, yDec: 2,
    datasets: [
      ...stack([P4_SN_3L, P4_SN_2L, P4_SN_1, P4_SN_2R, P4_SN_3R], true, 0, P4_BAO_3, P4_BAO_2, P4_BAO_1, P4_ALL_3, P4_ALL_2, P4_ALL_1, T_TRACE),
      lineDs(P4_W_MINUS_ONE, '#000', 1, 20, { open: true, tension: 0, cap: 'butt', dash: [2, 2] }),
      lineDs(P4_FLAT_LINE, ORANGE, 6, 10, { open: true, tension: 0, cap: 'butt', shadow: true }),
      lineDs(P4_LAMBDA_LINE, CYAN, 6, 9, { open: true, tension: 0, cap: 'butt', shadow: true }),
    ],
    decor: {
      title: [{ text: 'ow', font: italicSerif(21) }, { text: 'CDM', font: sans(19) }],
      xLabel: W_ZERO, xLabelGap: 44,
      yLabel: OMEGA_K, yLabelGap: 56,
      legendSide: 'left', legendRows: [21, 44.7, 67.6],
      texts: [
        { text: 'flat', at: P4_FLAT_TEXT_AT, font: serif(52), color: ORANGE, align: 'left' },
        { text: 'Λ', at: P4_LAMBDA_TEXT_AT, font: serif(64), color: CYAN, align: 'center' },
      ],
    },
  },
];

function Panel({ spec }: { spec: PanelSpec }) {
  const ref = useRef<HTMLCanvasElement>(null);
  const [fx, fy, fw, fh] = spec.frame;
  useEffect(() => {
    const canvas = ref.current;
    if (!canvas) return;
    const [al, at, ar, ab] = spec.area;
    const chart = new Chart(canvas, {
      type: 'scatter',
      data: { datasets: spec.datasets },
      options: {
        responsive: false,
        animation: false,
        events: [],
        devicePixelRatio: 1,
        layout: { padding: { left: 0, top: at, right: fw - ar, bottom: 0 }, autoPadding: false },
        plugins: {
          legend: { display: false },
          tooltip: { enabled: false },
          title: { display: false },
        },
        scales: {
          x: axisCfg('bottom', spec.xRange, spec.xTicks, spec.xDec, true, fh - ab),
          x2: axisCfg('top', spec.xRange, spec.xTicks, spec.xDec, false, 0),
          y: axisCfg('left', spec.yRange, spec.yTicks, spec.yDec, true, al),
          y2: axisCfg('right', spec.yRange, spec.yTicks, spec.yDec, false, 0),
        },
      } as any,
      plugins: [makeDecorPlugin(spec.decor), shadowPlugin] as any,
    });
    return () => chart.destroy();
  }, []);
  return (
    <canvas
      ref={ref}
      width={fw}
      height={fh}
      style={{ position: 'absolute', left: fx, top: fy, width: fw, height: fh }}
    />
  );
}

export default function App() {
  return (
    <div
      style={{
        position: 'absolute',
        left: 0,
        top: 0,
        width: 1318,
        height: 879,
        overflow: 'hidden',
        background: 'linear-gradient(135deg, #5d4c64 0%, #4e3f55 50%, #5a4961 100%)',
      }}
    >
      <div style={{ position: 'absolute', left: 4, top: 5, width: 1311, height: 874, background: '#ffffff' }} />
      {PANELS.map((p, i) => (
        <Panel key={i} spec={p} />
      ))}
    </div>
  );
}
